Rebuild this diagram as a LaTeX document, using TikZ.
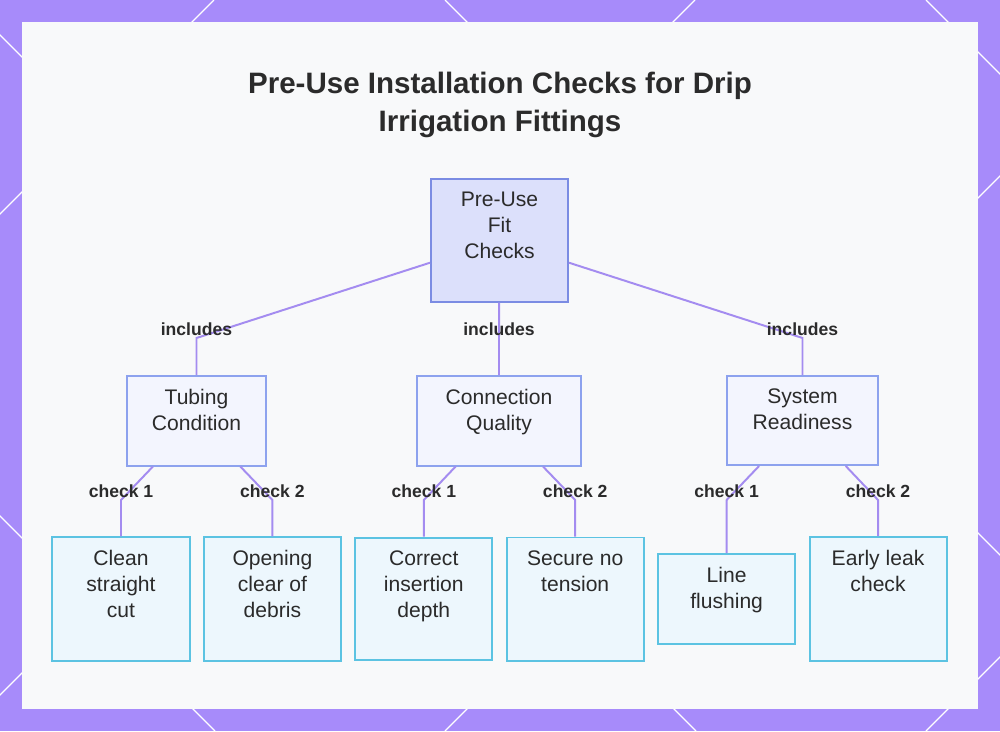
\documentclass[tikz,border=0pt]{standalone}
\usepackage{fontspec}
\setmainfont{Liberation Sans}
\usepackage{xcolor}
\usetikzlibrary{positioning, calc}
\definecolor{fondmauve}{HTML}{A78BFA}
\definecolor{panneau}{HTML}{F8F9FA}
\definecolor{trait}{HTML}{A48CF0}
\definecolor{bordracine}{HTML}{7B8CE3}
\definecolor{fondracine}{HTML}{DCE0FB}
\definecolor{bordbranche}{HTML}{8DA2EE}
\definecolor{fondbranche}{HTML}{F3F5FE}
\definecolor{bordfeuille}{HTML}{5CC3E2}
\definecolor{fondfeuille}{HTML}{EDF7FD}
\definecolor{texte}{HTML}{2B2B2B}
\tikzset{
  racine/.style={rectangle, draw=bordracine, fill=fondracine, line width=1.4pt,
    text=texte, font=\fontsize{15}{18.4}\selectfont, align=center,
    minimum width=34.25mm, inner xsep=1mm, inner ysep=3.25mm, text depth=7.6mm},
  branche/.style={racine, draw=bordbranche, fill=fondbranche, text depth=5.6mm},
  feuille/.style={racine, draw=bordfeuille, fill=fondfeuille},
  lien/.style={line width=1.4pt, color=trait},
  etiquette/.style={font=\fontsize{12.5}{15}\selectfont\bfseries, text=texte,
    inner sep=0pt, yshift=2.25mm},
  titre/.style={font=\fontsize{21}{27}\selectfont\bfseries, text=texte, align=center}
}

\begin{document}
\begin{tikzpicture}[x=0.025cm, y=-0.025cm]
    \useasboundingbox (0,0) rectangle (1000,731);
    % fond et cadre
    \fill[fondmauve] (0,0) rectangle (1000,731);
    \begin{scope}
      \clip (0,0) rectangle (1000,731);
      \foreach \c in {-516,-35,445,926}
        \draw[white, line width=0.9pt] (\c,0) -- ++(731,731);
      \foreach \c in {214,695,1176,1657}
        \draw[white, line width=0.9pt] (\c,0) -- ++(-731,731);
    \end{scope}
    \fill[panneau] (22,22) rectangle (978,709);

    \node[titre, anchor=north] (titre) at (500,67) {Pre-Use Installation Checks for Drip\\ Irrigation Fittings};

    \node[racine, anchor=north] (fit) at (499.5,178) {Pre-Use\\ Fit\\ Checks};

    \node[branche, minimum width=34.75mm, anchor=north] (tubing) at (196.5,375) {Tubing\\ Condition};
    \node[branche, minimum width=41mm, anchor=north] (connection) at (499,375) {Connection\\ Quality};
    \node[branche, minimum width=37.75mm, anchor=north] (system) at (802.5,375) {System\\ Readiness};

    \node[feuille] (cut) at (121,599) {Clean\\ straight\\ cut};
    \node[feuille, right=3.1mm of cut] (debris) {Opening\\ clear of\\ debris};
    \node[feuille, right=3.1mm of debris] (depth) {Correct\\ insertion\\ depth};
    \node[feuille, text depth=14.1mm, right=3.1mm of depth] (tension) {Secure no\\ tension};
    \node[feuille, text depth=5.6mm, right=3.1mm of tension] (flushing) {Line\\ flushing};
    \node[feuille, text depth=14.1mm, right=3.1mm of flushing] (leak) {Early leak\\ check};

    \coordinate (rang1) at (0,338);
    \coordinate (rang2) at (0,500);

    \draw[lien] (fit) -- (rang1 -| tubing) node[etiquette]{includes} -- (tubing);
    \draw[lien] (fit) -- (rang1 -| connection) node[etiquette]{includes} -- (connection);
    \draw[lien] (fit) -- (rang1 -| system) node[etiquette]{includes} -- (system);

    \draw[lien] (tubing) -- (rang2 -| cut) node[etiquette]{check 1} -- (cut);
    \draw[lien] (tubing) -- (rang2 -| debris) node[etiquette]{check 2} -- (debris);
    \draw[lien] (connection) -- (rang2 -| depth) node[etiquette]{check 1} -- (depth);
    \draw[lien] (connection) -- (rang2 -| tension) node[etiquette]{check 2} -- (tension);
    \draw[lien] (system) -- (rang2 -| flushing) node[etiquette]{check 1} -- (flushing);
    \draw[lien] (system) -- (rang2 -| leak) node[etiquette]{check 2} -- (leak);
  \end{tikzpicture}
\end{document}
